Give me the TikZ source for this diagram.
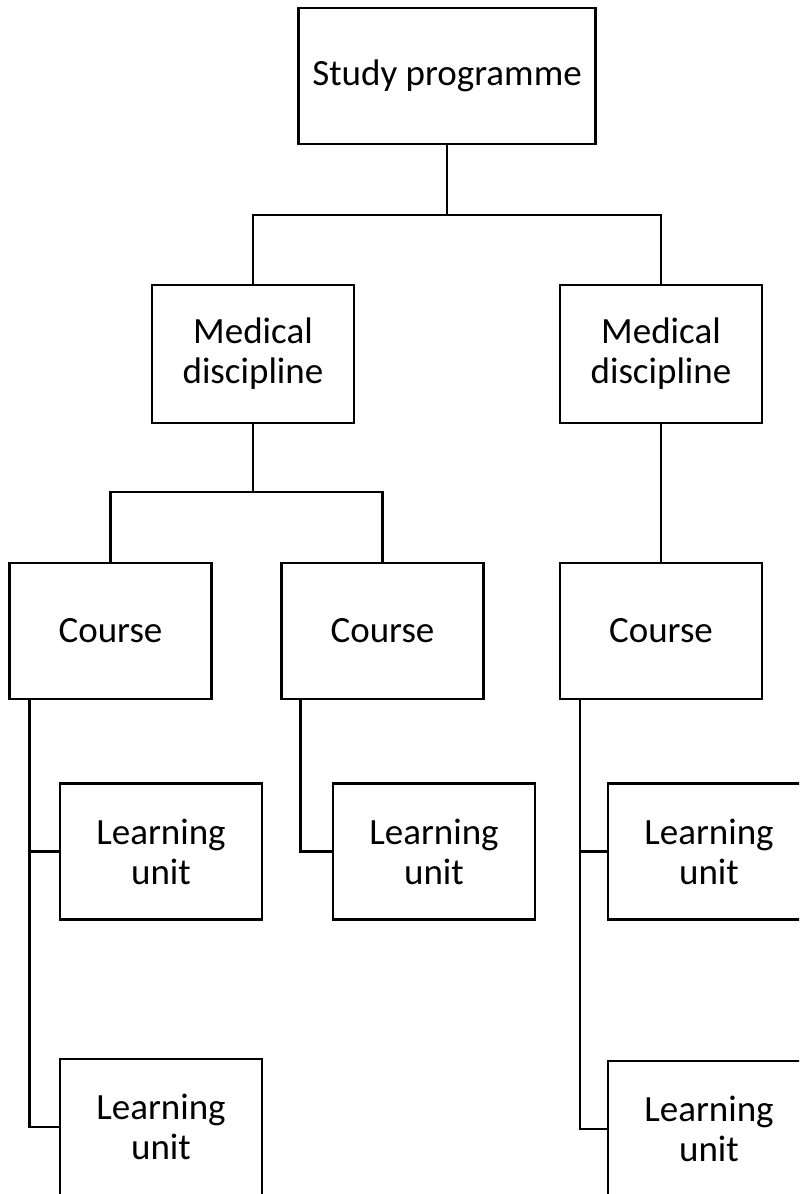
\documentclass[tikz,border=0pt]{standalone}
\usepackage{fontspec}
\setmainfont{Carlito}
\begin{document}
\begin{tikzpicture}[
    x=0.5pt, y=-0.5pt,
    box/.style={rectangle, draw, line width=1.1pt,
                minimum width=101pt, minimum height=68pt,
                inner sep=0pt, align=center,
                font=\fontsize{18.5}{20}\selectfont},
    link/.style={line width=1.1pt}
]
  \clip (0,0) rectangle (799,1194);
  \node[box, minimum width=148.5pt] (prog) at (447,76)   {Study programme};
  \node[box, minimum height=69pt]   (med1) at (253,354)  {Medical\\discipline};
  \node[box, minimum height=69pt]   (med2) at (661,354)  {Medical\\discipline};
  \node[box] (crs1)  at (110.5,631)  {Course};
  \node[box] (crs2)  at (382.5,631)  {Course};
  \node[box] (crs3)  at (661,631)    {Course};
  \node[box] (unit1) at (161,851.5)  {Learning\\unit};
  \node[box] (unit2) at (434,851.5)  {Learning\\unit};
  \node[box] (unit3) at (709,851.5)  {Learning\\unit};
  \node[box] (unit4) at (161,1127)   {Learning\\unit};
  \node[box] (unit5) at (709,1129)   {Learning\\unit};
  \coordinate (j1) at (447,215);
  \coordinate (j2) at (253,492);
  \draw[link] (prog) -- (j1);
  \draw[link] (med1) |- (j1) -| (med2);
  \draw[link] (med1) -- (j2);
  \draw[link] (crs1) |- (j2) -| (crs2);
  \draw[link] (med2) -- (crs3);
  \draw[link] ([xshift=10.5pt]crs1.south west) |- (unit1.west);
  \draw[link] ([xshift=10.5pt]crs1.south west) |- (unit4.west);
  \draw[link] ([xshift=10pt]crs2.south west)   |- (unit2.west);
  \draw[link] ([xshift=10.5pt]crs3.south west) |- (unit3.west);
  \draw[link] ([xshift=10.5pt]crs3.south west) |- (unit5.west);
\end{tikzpicture}
\end{document}
